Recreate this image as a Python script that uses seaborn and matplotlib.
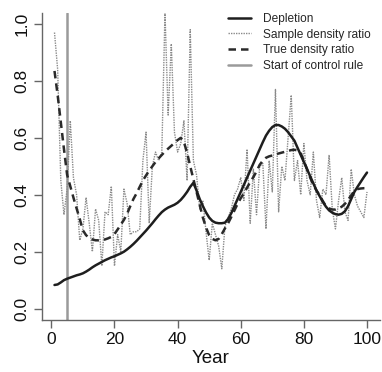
import numpy as np
import pandas as pd
import matplotlib
matplotlib.use("Agg")
import matplotlib.pyplot as plt
import seaborn as sns
from matplotlib.lines import Line2D

years = list(range(1, 101))

depletion = [
    0.083, 0.085, 0.092, 0.100, 0.105, 0.109, 0.113, 0.117, 0.120, 0.124,
    0.130, 0.137, 0.145, 0.152, 0.158, 0.164, 0.170, 0.175, 0.180, 0.184,
    0.189, 0.194, 0.200, 0.208, 0.217, 0.227, 0.238, 0.250, 0.262, 0.274,
    0.287, 0.300, 0.314, 0.327, 0.339, 0.348, 0.355, 0.360, 0.365, 0.372,
    0.382, 0.395, 0.410, 0.428, 0.442, 0.415, 0.385, 0.360, 0.338, 0.320,
    0.308, 0.302, 0.300, 0.300, 0.302, 0.315, 0.335, 0.360, 0.385, 0.410,
    0.435, 0.460, 0.485, 0.510, 0.535, 0.560, 0.585, 0.608, 0.625, 0.638,
    0.645, 0.645, 0.640, 0.632, 0.620, 0.605, 0.590, 0.565, 0.540, 0.515,
    0.490, 0.465, 0.440, 0.415, 0.395, 0.375, 0.358, 0.345, 0.337, 0.332,
    0.330, 0.333, 0.342, 0.360, 0.385, 0.410, 0.428, 0.445, 0.462, 0.478,
]

sample_ratio = [
    0.97, 0.84, 0.45, 0.33, 0.42, 0.66, 0.46, 0.40, 0.24, 0.28,
    0.39, 0.30, 0.20, 0.35, 0.31, 0.15, 0.34, 0.33, 0.43, 0.15,
    0.26, 0.20, 0.42, 0.37, 0.26, 0.27, 0.27, 0.28, 0.52, 0.62,
    0.30, 0.50, 0.55, 0.52, 0.55, 1.04, 0.68, 0.93, 0.62, 0.55,
    0.58, 0.66, 0.45, 0.98, 0.52, 0.47, 0.35, 0.38, 0.27, 0.17,
    0.30, 0.26, 0.22, 0.14, 0.29, 0.32, 0.35, 0.40, 0.42, 0.46,
    0.38, 0.56, 0.30, 0.49, 0.33, 0.50, 0.51, 0.28, 0.52, 0.41,
    0.77, 0.34, 0.50, 0.45, 0.60, 0.75, 0.45, 0.52, 0.40, 0.58,
    0.45, 0.40, 0.55, 0.38, 0.32, 0.42, 0.40, 0.54, 0.35, 0.28,
    0.38, 0.46, 0.34, 0.31, 0.49, 0.40, 0.36, 0.34, 0.32, 0.41,
]

true_ratio = [
    0.835, 0.750, 0.655, 0.560, 0.470, 0.430, 0.390, 0.352, 0.315, 0.275,
    0.258, 0.248, 0.243, 0.240, 0.240, 0.241, 0.243, 0.247, 0.252, 0.262,
    0.278, 0.295, 0.312, 0.333, 0.360, 0.385, 0.405, 0.428, 0.450, 0.468,
    0.485, 0.500, 0.515, 0.528, 0.540, 0.552, 0.562, 0.572, 0.582, 0.592,
    0.600, 0.585, 0.548, 0.500, 0.455, 0.410, 0.365, 0.320, 0.285, 0.258,
    0.245, 0.240, 0.245, 0.262, 0.282, 0.300, 0.322, 0.345, 0.368, 0.388,
    0.405, 0.425, 0.445, 0.462, 0.482, 0.505, 0.520, 0.530, 0.535, 0.538,
    0.542, 0.545, 0.548, 0.551, 0.554, 0.557, 0.558, 0.556, 0.545, 0.520,
    0.490, 0.460, 0.435, 0.415, 0.398, 0.378, 0.360, 0.352, 0.348, 0.348,
    0.352, 0.358, 0.368, 0.382, 0.398, 0.414, 0.420, 0.422, 0.423, 0.423,
]

control_start = 5
x_ticks = [0, 20, 40, 60, 80, 100]
y_ticks = [0.0, 0.2, 0.4, 0.6, 0.8, 1.0]
labels = ["Depletion", "Sample density ratio", "True density ratio", "Start of control rule"]

sns.set_style("ticks")
plt.rcParams["font.family"] = ["Liberation Sans", "DejaVu Sans"]

fig = plt.figure(figsize=(3.82, 3.72), dpi=100)
ax = fig.add_axes([42 / 382, 1 - 320 / 372, (379.5 - 42) / 382, (320 - 12.6) / 372])

df = pd.DataFrame({"Year": years, "dep": depletion, "samp": sample_ratio, "true": true_ratio})

ax.axvline(control_start, color="#9a9a9a", lw=1.8, zorder=1)
sns.lineplot(data=df, x="Year", y="samp", ax=ax, color="#8a8a8a", lw=1.0,
             linestyle=(0, (1, 0.8)), zorder=2)
sns.lineplot(data=df, x="Year", y="true", ax=ax, color="#2a2a2a", lw=1.8,
             linestyle=(0, (3, 2)), zorder=3)
sns.lineplot(data=df, x="Year", y="dep", ax=ax, color="#1e1e1e", lw=1.8, zorder=4)

ax.set_xlim(-2.96, 103.96)
ax.set_ylim(-0.04, 1.04)
ax.set_xticks(x_ticks)
ax.set_xticklabels([str(v) for v in x_ticks])
ax.set_yticks(y_ticks)
ax.set_yticklabels([f"{v:.1f}" for v in y_ticks], rotation=90, va="center")
ax.tick_params(axis="both", labelsize=12.5, length=6, width=1, color="#666666",
               direction="out", pad=3, labelcolor="#111111")
ax.set_xlabel("Year", fontsize=13.5, labelpad=2, color="#111111")
ax.set_ylabel("")
for side in ["top", "right"]:
    ax.spines[side].set_visible(False)
for side in ["left", "bottom"]:
    ax.spines[side].set_color("#666666")
    ax.spines[side].set_linewidth(1.0)

handles = [
    Line2D([], [], color="#1e1e1e", lw=1.8),
    Line2D([], [], color="#8a8a8a", lw=1.0, linestyle=(0, (1, 0.8))),
    Line2D([], [], color="#2a2a2a", lw=1.8, linestyle=(0, (3, 2))),
    Line2D([], [], color="#9a9a9a", lw=1.8),
]
fig.legend(handles, labels, loc="upper left", bbox_to_anchor=(228 / 382, 1 - 13 / 372),
           frameon=False, fontsize=8.6, handlelength=1.9, handletextpad=1.0,
           labelspacing=0.3, borderpad=0, borderaxespad=0)

fig.savefig("out.png", dpi=100)
